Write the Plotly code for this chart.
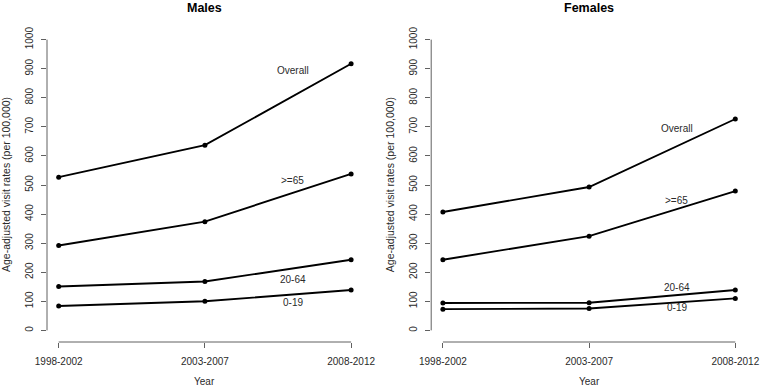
import plotly.graph_objects as go
from plotly.subplots import make_subplots

years = ["1998-2002", "2003-2007", "2008-2012"]
groups = ["Overall", ">=65", "20-64", "0-19"]

males_overall = [527, 637, 917]
males_65plus = [292, 374, 538]
males_20_64 = [151, 168, 243]
males_0_19 = [84, 100, 139]

females_overall = [407, 493, 727]
females_65plus = [243, 324, 479]
females_20_64 = [94, 95, 139]
females_0_19 = [73, 75, 110]

# label placement (value units) for the in-plot group labels
males_label_y = [894, 516, 176, 97]
females_label_y = [695, 447, 147, 78]
label_x = 1.6

y_ticks = list(range(0, 1001, 100))

FONT = "Liberation Sans, Arial, Helvetica, sans-serif"
TXT = "#2a2a2a"
AXC = "#606060"

fig = make_subplots(rows=1, cols=2, horizontal_spacing=0.0977)
xpos = list(range(len(years)))

panels = [
    ("Males", [males_overall, males_65plus, males_20_64, males_0_19], males_label_y),
    ("Females", [females_overall, females_65plus, females_20_64, females_0_19], females_label_y),
]

for ci, (title, series, lab_y) in enumerate(panels, start=1):
    for g, vals in zip(groups, series):
        fig.add_trace(
            go.Scatter(
                x=xpos, y=vals, mode="lines+markers", name=g,
                line=dict(color="black", width=1.9),
                marker=dict(color="black", size=5),
                showlegend=False, hoverinfo="x+y",
            ),
            row=1, col=ci,
        )
    xa = "x" if ci == 1 else "x2"
    ya = "y" if ci == 1 else "y2"
    # R-style axis lines spanning only the tick range
    fig.add_shape(type="line", xref=xa, yref=ya + " domain", x0=xpos[0], x1=xpos[-1],
                  y0=0, y1=0, line=dict(color=AXC, width=1))
    fig.add_shape(type="line", xref=xa + " domain", yref=ya, x0=0, x1=0,
                  y0=y_ticks[0], y1=y_ticks[-1], line=dict(color=AXC, width=1))
    for g, ly in zip(groups, lab_y):
        fig.add_annotation(x=label_x, y=ly, xref=xa, yref=ya, text=g, showarrow=False,
                           font=dict(family=FONT, size=10, color=TXT))
    fig.add_annotation(x=0.5, y=1, xref=xa + " domain", yref="paper", text="<b>" + title + "</b>",
                       showarrow=False, yanchor="top", borderpad=0, yshift=28.5,
                       font=dict(family=FONT, size=12.5, color="black"))
    fig.add_annotation(x=0.5, y=0, xref=xa + " domain", yref="paper", text="Year",
                       showarrow=False, yanchor="bottom", borderpad=0, yshift=-46,
                       font=dict(family=FONT, size=10, color=TXT))
    fig.add_annotation(x=0, y=0.5, xref=xa + " domain", yref=ya + " domain",
                       text="Age-adjusted visit rates (per 100,000)", textangle=-90,
                       showarrow=False, xanchor="center", xshift=-41,
                       font=dict(family=FONT, size=10.5, color=TXT))

    fig.update_xaxes(range=[-0.08, 2.08], tickvals=xpos, ticktext=years, showgrid=False,
                     zeroline=False, showline=False, ticks="outside", ticklen=5,
                     tickcolor=AXC, tickfont=dict(family=FONT, size=10, color=TXT),
                     ticklabelstandoff=5, automargin=False, row=1, col=ci)
    fig.update_yaxes(range=[-40, 1040], tickvals=y_ticks, showgrid=False, zeroline=False,
                     showline=False, ticks="outside", ticklen=5, tickcolor=AXC,
                     tickangle=-90, tickfont=dict(family=FONT, size=10, color=TXT),
                     ticklabelstandoff=4, automargin=False, row=1, col=ci)

fig.update_layout(
    width=764, height=387,
    margin=dict(l=47, r=17.4, t=27.7, b=45.4, autoexpand=False),
    plot_bgcolor="white", paper_bgcolor="white",
)

fig.write_html("out.html", config={"displayModeBar": False},
               post_script="document.body.style.margin='0';document.body.style.padding='0';"
                           "document.body.style.overflow='hidden';")
